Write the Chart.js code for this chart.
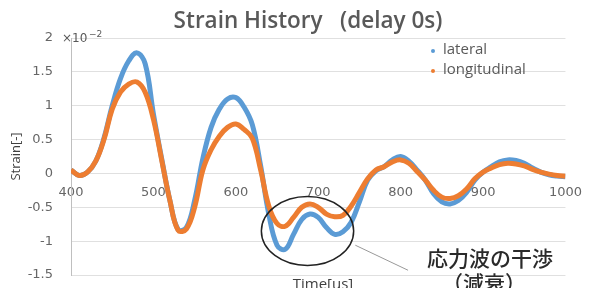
<!DOCTYPE html>
<html>
<head>
<meta charset="utf-8">
<script src="https://cdn.jsdelivr.net/npm/chart.js@4.4.1/dist/chart.umd.min.js"></script>
<style>
  html, body { margin: 0; padding: 0; background: #fff; }
  #wrap { width: 593px; height: 288px; position: relative; }
</style>
</head>
<body>
<div id="wrap"><canvas id="myChart" width="593" height="288"></canvas></div>
<script>
// time [us]
const tijden = [400, 410, 420, 430, 440, 450, 460, 470, 480, 490, 500, 510, 520, 530, 540, 550, 560, 570, 580, 590, 600, 610, 620, 630, 640, 650, 660, 670, 680, 690, 700, 710, 720, 730, 740, 750, 760, 770, 780, 790, 800, 810, 820, 830, 840, 850, 860, 870, 880, 890, 900, 910, 920, 930, 940, 950, 960, 970, 980, 990, 1000];
// strain x10^-2
const lateral = [0.05, -0.03, 0.02, 0.18, 0.52, 1.0, 1.40, 1.66, 1.78, 1.62, 0.88, 0.22, -0.40, -0.83, -0.80, -0.40, 0.22, 0.68, 0.95, 1.10, 1.12, 0.98, 0.72, 0.12, -0.60, -1.06, -1.12, -0.90, -0.68, -0.60, -0.65, -0.80, -0.90, -0.86, -0.72, -0.42, -0.10, 0.04, 0.10, 0.20, 0.25, 0.18, 0.05, -0.10, -0.30, -0.42, -0.45, -0.40, -0.28, -0.10, 0.02, 0.10, 0.17, 0.20, 0.19, 0.15, 0.08, 0.02, -0.02, -0.04, -0.05];
const longitudinal = [0.05, -0.03, 0.02, 0.18, 0.50, 0.95, 1.20, 1.32, 1.35, 1.20, 0.80, 0.20, -0.40, -0.84, -0.82, -0.50, 0.05, 0.35, 0.55, 0.68, 0.73, 0.65, 0.52, 0.06, -0.48, -0.74, -0.78, -0.65, -0.50, -0.45, -0.50, -0.60, -0.64, -0.62, -0.48, -0.28, -0.08, 0.05, 0.10, 0.17, 0.20, 0.15, 0.03, -0.10, -0.25, -0.35, -0.37, -0.33, -0.23, -0.08, 0.02, 0.08, 0.13, 0.15, 0.14, 0.11, 0.06, 0.02, -0.01, -0.03, -0.04];
const yTicks = [-1.5, -1, -0.5, 0, 0.5, 1, 1.5, 2];
const xTicks = [400, 500, 600, 700, 800, 900, 1000];

const blauw = "#5b9bd5";
const oranje = "#ed7d31";
const grijs = "#595959";

function punten(reeks) {
    return tijden.map((t, i) => ({ x: t, y: reeks[i] }));
}

const extraTekst = {
    id: "extraTekst",
    afterDraw(chart) {
        const c = chart.ctx;
        const xs = chart.scales.x;
        const ys = chart.scales.y;
        c.save();

        // titel
        c.font = "600 22.5px 'Open Sans'";
        c.fillStyle = grijs;
        c.textAlign = "center";
        c.textBaseline = "middle";
        c.fillText("Strain History   (delay 0s)", 308, 22);

        // x10^-2
        c.font = "12px 'DejaVu Sans'";
        c.textAlign = "left";
        c.fillStyle = grijs;
        c.fillText("\u00d710", 62, 39);
        c.font = "9px 'DejaVu Sans'";
        c.fillText("\u22122", 62 + 27, 35);

        // x as titel
        c.font = "15px 'Open Sans'";
        c.textAlign = "center";
        c.fillStyle = "#404040";
        c.fillText("Time[us]", 323, 285);

        // legenda
        const items = chart.data.datasets;
        items.forEach((ds, i) => {
            const y = 50 + i * 20;
            c.fillStyle = ds.borderColor;
            c.beginPath();
            c.arc(433, y + 1, 2, 0, Math.PI * 2);
            c.fill();
            c.font = "15px 'Open Sans'";
            c.fillStyle = grijs;
            c.textAlign = "left";
            c.fillText(ds.label, 443, y);
        });

        // ellips rond de interferentie
        const cx = xs.getPixelForValue(687);
        const cy = ys.getPixelForValue(-0.85);
        const rx = xs.getPixelForValue(687 + 56) - cx;
        const ry = ys.getPixelForValue(-0.85 - 0.51) - cy;
        c.strokeStyle = "#222";
        c.lineWidth = 1.5;
        c.beginPath();
        c.ellipse(cx, cy, rx, ry, 0, 0, Math.PI * 2);
        c.stroke();

        // lijntje naar tekst
        c.strokeStyle = "#999";
        c.lineWidth = 1;
        c.beginPath();
        c.moveTo(xs.getPixelForValue(745), ys.getPixelForValue(-1.06));
        c.lineTo(xs.getPixelForValue(809), ys.getPixelForValue(-1.43));
        c.stroke();

        c.font = "500 21px 'Noto Sans CJK JP'";
        c.fillStyle = "#2a2a2a";
        c.textAlign = "center";
        c.fillText("\u5fdc\u529b\u6ce2\u306e\u5e72\u6e09", 490, 258);
        c.fillText("\uff08\u6e1b\u8870\uff09", 484, 283);

        c.restore();
    }
};

const config = {
    type: "line",
    data: {
        datasets: [{
            label: "lateral",
            data: punten(lateral),
            borderColor: blauw,
            backgroundColor: blauw,
            borderWidth: 5,
            pointRadius: 0,
            tension: 0.4,
            order: 1
        }, {
            label: "longitudinal",
            data: punten(longitudinal),
            borderColor: oranje,
            backgroundColor: oranje,
            borderWidth: 5,
            pointRadius: 0,
            tension: 0.4,
            order: 0
        }]
    },
    options: {
        responsive: false,
        animation: false,
        layout: {
            padding: { top: 38, right: 18, bottom: 13, left: 0 }
        },
        plugins: {
            legend: { display: false },
            title: { display: false },
            tooltip: { enabled: false }
        },
        scales: {
            x: {
                type: "linear",
                position: { y: 0 },
                min: 400,
                max: 1000,
                afterBuildTicks(scale) {
                    scale.ticks = xTicks.map(v => ({ value: v }));
                },
                afterFit(scale) {
                    scale.height = 0;
                },
                grid: { display: false, drawTicks: false },
                border: { display: false },
                ticks: {
                    color: "#666",
                    font: { size: 13, family: "'DejaVu Sans'" },
                    padding: 11,
                    maxRotation: 0,
                    callback: v => String(v)
                }
            },
            y: {
                type: "linear",
                min: -1.5,
                max: 2,
                afterBuildTicks(scale) {
                    scale.ticks = yTicks.map(v => ({ value: v }));
                },
                afterFit(scale) {
                    scale.width = 71;
                    scale.paddingTop = 0;
                    scale.paddingBottom = 0;
                },
                grid: { color: "#e0e0e0", drawTicks: false },
                border: { display: true, color: "#bfbfbf" },
                title: {
                    display: true,
                    text: "Strain[-]",
                    color: "#404040",
                    font: { size: 13, family: "'Open Sans'" },
                    padding: { top: 8, bottom: 0 }
                },
                ticks: {
                    color: "#666",
                    font: { size: 13, family: "'DejaVu Sans'" },
                    padding: 18,
                    callback: v => String(v)
                }
            }
        }
    },
    plugins: [extraTekst]
};

const myChart = new Chart(document.getElementById("myChart"), config);
</script>
</body>
</html>
